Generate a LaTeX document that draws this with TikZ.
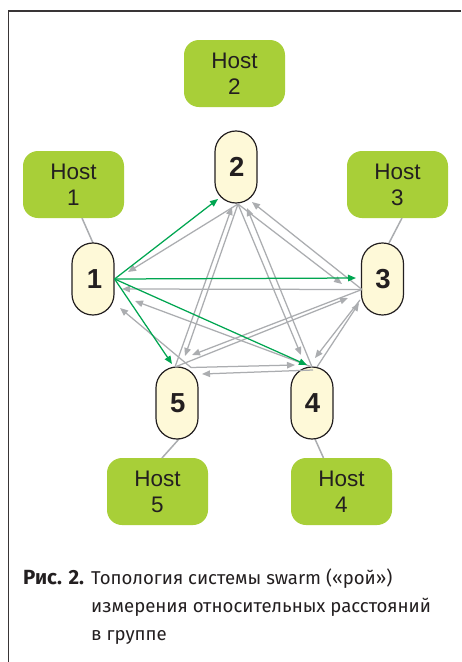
\documentclass[tikz,border=0pt]{standalone}
\usepackage{fontspec}
\setmainfont{Liberation Sans}
\newfontfamily\capfont{Fira Sans}
\usetikzlibrary{arrows.meta}
\definecolor{hostgreen}{HTML}{A8CF38}
\definecolor{pillfill}{HTML}{FEF9D8}
\definecolor{pilldraw}{HTML}{231F20}
\definecolor{linkgray}{HTML}{ABADB0}
\definecolor{arrowgreen}{HTML}{00A651}
\tikzset{
  hostbox/.style={rectangle,rounded corners=15pt,fill=hostgreen,minimum width=101pt,minimum height=67pt,inner sep=0pt,align=center,font=\fontsize{22.5}{26}\selectfont,text=pilldraw},
  pill/.style={rectangle,rounded corners=20.9pt,fill=pillfill,draw=pilldraw,line width=1.2pt,minimum width=42pt,minimum height=72pt,inner sep=0pt,font=\fontsize{27.5}{30}\selectfont\bfseries,text=pilldraw},
  hostlink/.style={draw=linkgray,line width=1.5pt},
  grayarrow/.style={draw=linkgray,line width=1.25pt,-{Triangle[length=8pt,width=6.5pt]}},
  greenarrow/.style={draw=arrowgreen,line width=1.25pt,-{Triangle[length=8pt,width=6.5pt]}},
  captext/.style={anchor=base west,inner sep=0pt,font=\capfont\fontsize{18.6}{20}\selectfont,text=pilldraw},
}
\begin{document}
\begin{tikzpicture}[x=1pt,y=-1pt]
\useasboundingbox (0,0) rectangle (461,662);
\fill[white] (0,0) rectangle (461,662);
\draw[pilldraw!90,line width=1.2pt] (8.5,662) -- (8.5,11) -- (461,11);
% hosts
\node[hostbox] (h2) at (234.5,73.5) {Host\\2};
\node[hostbox] (h1) at (73.5,184.5) {Host\\1};
\node[hostbox] (h3) at (397.5,184.5) {Host\\3};
\node[hostbox] (h5) at (157.5,491.5) {Host\\5};
\node[hostbox] (h4) at (341.5,491.5) {Host\\4};
% host links (under pills)
\coordinate (c1) at (82,218); \coordinate (c3) at (402,218);
\coordinate (c5) at (162,458); \coordinate (c4) at (323.5,458);
\coordinate (p1) at (93,243); \coordinate (p3) at (389,243);
\coordinate (p5) at (179,439); \coordinate (p4) at (315,439);
\draw[hostlink] (c1) -- (p1);
\draw[hostlink] (c3) -- (p3);
\draw[hostlink] (c5) -- (p5);
\draw[hostlink] (c4) -- (p4);
% pills
\node[pill] (n1) at (93,279) {\hspace{3pt}1};
\node[pill] (n2) at (236,167) {\hspace{1.5pt}2};
\node[pill] (n3) at (382.5,279) {\hspace{1pt}3};
\node[pill] (n4) at (312,403) {\hspace{1pt}4};
\node[pill] (n5) at (177,403) {\hspace{1.5pt}5};
% gray connector ends
\coordinate (s2) at (238,204);
\coordinate (s3) at (362,289.5);
\coordinate (s3b) at (360,300);
\coordinate (s4) at (312,367);
\coordinate (s4b) at (317,367);
\coordinate (s4c) at (313,370);
\coordinate (s5) at (175,367);
\coordinate (s5b) at (191,367.5);
\coordinate (t21) at (128,272);
\coordinate (t23) at (342,284);
\coordinate (t32) at (252,202);
\coordinate (t31) at (122,289);
\coordinate (t24) at (301,355);
\coordinate (t42) at (247,208);
\coordinate (t25) at (185,356);
\coordinate (t52) at (232,207);
\coordinate (t51) at (120,308);
\coordinate (t54) at (295,365);
\coordinate (t45) at (202,374);
\coordinate (t41) at (135,301);
\coordinate (t35) at (192,355);
\coordinate (t53) at (348,298);
\coordinate (t34) at (315,358);
\coordinate (t43) at (359,303);
\draw[grayarrow] (s2) -- (t21);
\draw[grayarrow] (s2) -- (t23);
\draw[grayarrow] (s3) -- (t32);
\draw[grayarrow] (s3) -- (t31);
\draw[grayarrow] (s2) -- (t24);
\draw[grayarrow] (s4) -- (t42);
\draw[grayarrow] (s2) -- (t25);
\draw[grayarrow] (s5) -- (t52);
\draw[grayarrow] (s5b) -- (t51);
\draw[grayarrow] (s5b) -- (t54);
\draw[grayarrow] (s4c) -- (t45);
\draw[grayarrow] (s4) -- (t41);
\draw[grayarrow] (s3) -- (t35);
\draw[grayarrow] (s5) -- (t53);
\draw[grayarrow] (s3b) -- (t34);
\draw[grayarrow] (s4b) -- (t43);
% green
\coordinate (g2) at (218,199);
\coordinate (g3) at (356,278);
\coordinate (g4) at (307,365);
\coordinate (g5) at (172,364);
\draw[greenarrow] (n1.east) -- (g2);
\draw[greenarrow] (n1.east) -- (g3);
\draw[greenarrow] (n1.east) -- (g4);
\draw[greenarrow] (n1.east) -- (g5);
% caption
\node[captext,font=\capfont\fontsize{20.5}{20}\selectfont] (cap0) at (23,584) {\textbf{Рис. 2.}};
\node[captext] (cap1) at (91,584) {Топология системы swarm («рой»)};
\node[captext] (cap2) at (91,612) {измерения относительных расстояний};
\node[captext] (cap3) at (91,640) {в группе};
\end{tikzpicture}
\end{document}
